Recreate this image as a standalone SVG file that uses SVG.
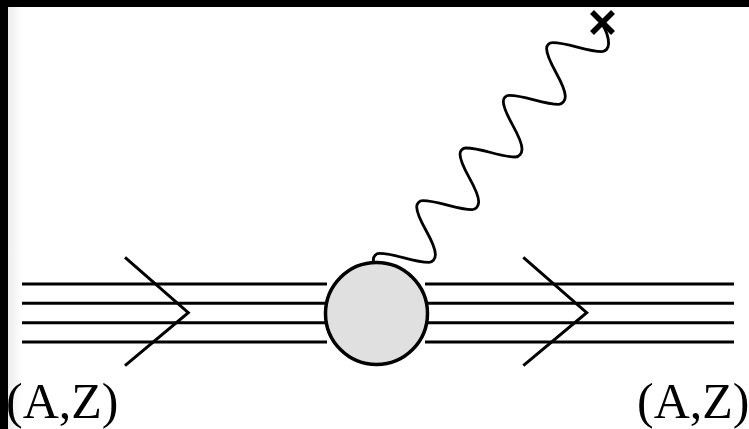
<svg xmlns="http://www.w3.org/2000/svg" width="749" height="429" viewBox="0 0 749 429">
  <defs>
    <linearGradient id="edgeShade" x1="0" y1="0" x2="1" y2="0">
      <stop offset="0" stop-color="#ececec"/>
      <stop offset="1" stop-color="#ffffff"/>
    </linearGradient>
    <style>
      .line { stroke: #000; stroke-width: 3; fill: none; }
      .chev { stroke: #000; stroke-width: 3; fill: none; stroke-linejoin: miter; }
      .photon { stroke: #000; stroke-width: 2.8; fill: none; stroke-linecap: round; }
      .cross { stroke: #000; stroke-width: 5.5; fill: none; stroke-linecap: butt; }
      .blob { fill: #e0e0e0; stroke: #000; stroke-width: 3.5; }
      .label { font-family: "Liberation Serif", "Times New Roman", serif; font-size: 50px; fill: #000; }
    </style>
  </defs>

  <!-- frame -->
  <rect x="0" y="0" width="749" height="429" fill="#000"/>
  <rect x="8" y="7" width="741" height="422" fill="#fff"/>
  <rect x="8" y="7" width="14" height="422" fill="url(#edgeShade)"/>

  <g id="connectors">
    <!-- incoming nucleus (four parallel lines) -->
    <g id="incoming">
      <line class="line" x1="22" y1="284" x2="327" y2="284"/>
      <line class="line" x1="22" y1="303.3" x2="327" y2="303.3"/>
      <line class="line" x1="22" y1="322.7" x2="327" y2="322.7"/>
      <line class="line" x1="22" y1="342" x2="327" y2="342"/>
      <polyline class="chev" points="125,257.3 188.3,312.7 125,365.7"/>
    </g>
    <!-- outgoing nucleus -->
    <g id="outgoing">
      <line class="line" x1="425" y1="284" x2="734" y2="284"/>
      <line class="line" x1="425" y1="303.3" x2="734" y2="303.3"/>
      <line class="line" x1="425" y1="322.7" x2="734" y2="322.7"/>
      <line class="line" x1="425" y1="342" x2="734" y2="342"/>
      <polyline class="chev" points="523.3,257.3 586.7,312.7 523.3,365.7"/>
    </g>
    <!-- exchanged photon -->
    <path id="photon" class="photon" d="M373.4,266 L373.4,259.4
      c 0,-3.3 2.7,-6 6,-6 c 16,0 33.5,9 49.5,9 c 3.6,0 6.5,-3.6 6.5,-8 c 0,-14 -18.7,-33.7 -18.7,-47.7
      c 0,-3.3 2.7,-6 6,-6 c 16,0 33.5,9 49.5,9 c 3.6,0 6.5,-3.6 6.5,-8 c 0,-14 -18.7,-33.7 -18.7,-47.7
      c 0,-3.3 2.7,-6 6,-6 c 16,0 33.5,9 49.5,9 c 3.6,0 6.5,-3.6 6.5,-8 c 0,-14 -18.7,-33.7 -18.7,-47.7
      c 0,-3.3 2.7,-6 6,-6 c 16,0 33.5,9 49.5,9 c 3.6,0 6.5,-3.6 6.5,-8 c 0,-14 -18.7,-33.7 -18.7,-47.7
      c 0,-3.3 2.7,-6 6,-6 c 16,0 33.5,9 49.5,9 c 3.6,0 6.5,-3.6 6.5,-8 c 0,-8 -3,-14 -6.6,-19.6"/>
  </g>

  <!-- external field source -->
  <g id="source">
    <line class="cross" x1="592" y1="12" x2="613" y2="33"/>
    <line class="cross" x1="613" y1="12" x2="592" y2="33"/>
  </g>

  <!-- interaction vertex -->
  <g id="vertex">
    <circle class="blob" cx="376.5" cy="313.5" r="51"/>
  </g>

  <g id="labels">
    <text class="label" x="6" y="418">(A,Z)</text>
    <text class="label" x="637" y="418">(A,Z)</text>
  </g>
</svg>
